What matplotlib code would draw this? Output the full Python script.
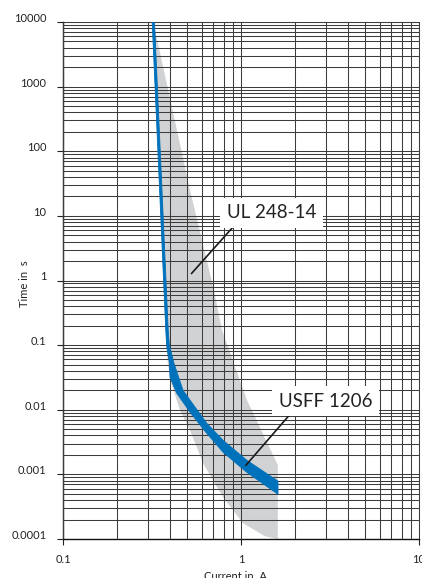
import matplotlib
matplotlib.use("Agg")
import matplotlib.pyplot as plt
from matplotlib.ticker import LogLocator, NullFormatter, FixedLocator

plt.rcParams['font.family'] = ['Lato', 'DejaVu Sans']

# UL 248-14 tolerance area (current in A, time in s)
ul_upper_i = [0.3216, 0.517, 0.705, 0.782, 1.08, 1.61, 1.61]
ul_upper_t = [10000, 25.1, 0.71, 0.171, 0.0141, 0.00139, 0.0001]
ul_lower_i = [1.364, 1.026, 0.792, 0.612, 0.517, 0.454, 0.409, 0.389, 0.38, 0.366, 0.3216]
ul_lower_t = [0.00011, 0.000176, 0.000444, 0.00149, 0.00483, 0.00986, 0.024, 0.049, 0.1, 1, 10000]

# USFF 1206 band
usff_hi_i = [0.3266, 0.390, 0.396, 0.420, 0.472, 0.517, 0.641, 0.792, 1.076, 1.614]
usff_hi_t = [10000, 0.171, 0.1, 0.0526, 0.0201, 0.0141, 0.00621, 0.00338, 0.00166, 0.000785]
usff_lo_i = [0.317, 0.378, 0.382, 0.396, 0.399, 0.435, 0.517, 0.641, 0.792, 1.076, 1.614]
usff_lo_t = [10000, 0.171, 0.1, 0.0526, 0.032, 0.0181, 0.00918, 0.00435, 0.00221, 0.00108, 0.000493]

y_ticks = [10000, 1000, 100, 10, 1, 0.1, 0.01, 0.001, 0.0001]
y_labels = ['10000', '1000', '100', '10', '1', '0.1', '0.01', '0.001', '0.0001']
x_ticks = [0.1, 1, 10]
x_labels = ['0.1', '1', '10']

fig = plt.figure(figsize=(4.22, 5.78), dpi=100)
ax = fig.add_axes([63 / 422, 1 - 539 / 578, 356 / 422, 517 / 578])
ax.set_xscale('log')
ax.set_yscale('log')
ax.set_xlim(0.1, 10)
ax.set_ylim(0.0001, 10000)

# grid
ax.grid(True, which='both', color='#3c3c3c', lw=0.75, zorder=1)
ax.set_axisbelow(False)
ax.yaxis.set_minor_locator(LogLocator(base=10, subs=range(2, 10), numticks=20))
ax.xaxis.set_minor_locator(LogLocator(base=10, subs=range(2, 10), numticks=20))
ax.xaxis.set_minor_formatter(NullFormatter())
ax.yaxis.set_minor_formatter(NullFormatter())

# shaded UL area
ax.fill(ul_upper_i + ul_lower_i, ul_upper_t + ul_lower_t,
        color='#d1d2d4', lw=0, zorder=0.5)

# blue band
ax.fill(usff_hi_i + usff_lo_i[::-1], usff_hi_t + usff_lo_t[::-1],
        color='#0071bb', lw=0.6, ec='#0071bb', zorder=3)

ax.set_yticks(y_ticks)
ax.set_yticklabels(y_labels)
ax.set_xticks(x_ticks)
ax.set_xticklabels(x_labels)
ax.tick_params(which='major', direction='out', length=4, width=0.8,
               labelsize=8, color='#222222', labelcolor='#222222')
ax.tick_params(axis='y', pad=8)
ax.tick_params(axis='x', pad=7)
ax.tick_params(which='minor', length=0)
for lab in ax.get_yticklabels():
    lab.set_va('baseline')

for s in ax.spines.values():
    s.set_color('#3c3c3c')
    s.set_linewidth(0.75)
ax.spines['left'].set_color('#111111')
ax.spines['left'].set_linewidth(1.0)
ax.spines['bottom'].set_color('#111111')
ax.spines['bottom'].set_linewidth(1.0)

# labels with leader lines
ax.plot([0.528, 0.898], [1.29, 6.64], color='#1a1a1a', lw=1.2, zorder=5)
ax.text(1.48, 9.15, 'UL 248-14', fontsize=13.5, ha='center', va='baseline',
        color='#222222', zorder=6,
        bbox=dict(boxstyle='square,pad=0.35', fc='white', ec='none'))
ax.plot([1.067, 1.91], [0.00139, 0.00885], color='#1a1a1a', lw=1.2, zorder=5)
ax.text(2.99, 0.0111, 'USFF 1206', fontsize=13.5, ha='center', va='baseline',
        color='#222222', zorder=6,
        bbox=dict(boxstyle='square,pad=0.35', fc='white', ec='none'))

fig.text(25 / 422, 1 - 284 / 578, 'Time in  s', rotation=90, fontsize=8,
         ha='center', va='center', color='#222222')
fig.text(235 / 422, 1 - 571 / 578, 'Current in  A', fontsize=8,
         ha='center', va='top', color='#222222')

fig.savefig('out.png', dpi=100)
